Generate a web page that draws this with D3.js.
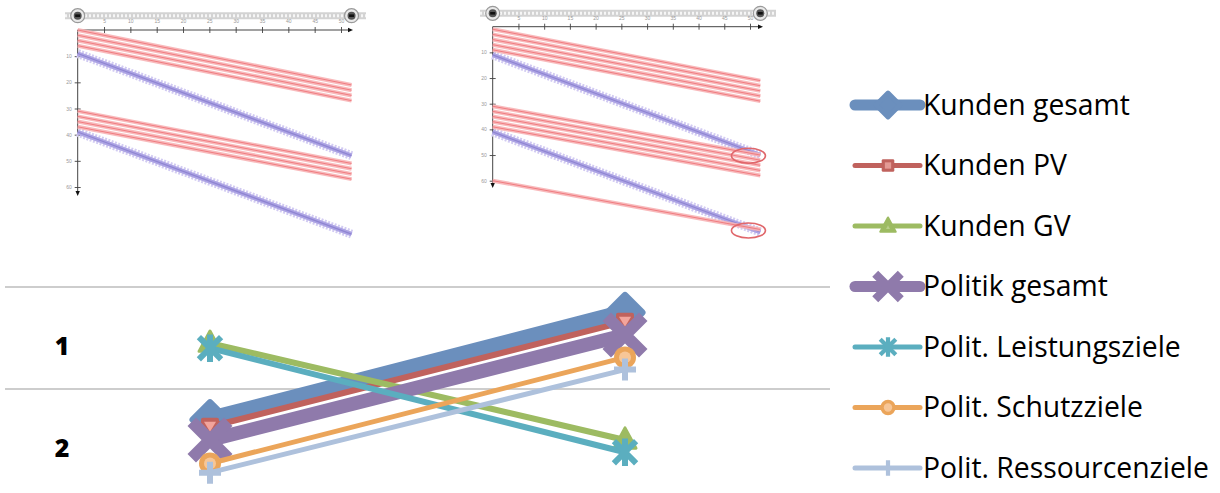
<!DOCTYPE html>
<html><head><meta charset="utf-8">
<script src="https://cdn.jsdelivr.net/npm/d3@7/dist/d3.min.js"></script>
<style>html,body{margin:0;padding:0;background:#fff;overflow:hidden}svg{display:block}</style>
</head><body>
<svg id="chart" width="1220" height="493"></svg>
<script>
// ---------- DATA ----------
// thumbnail charts (top)
const thumbXTicks = [5,10,15,20,25,30,35,40,45,50];
const thumbYTicks = [10,20,30,40,50,60];
const lineEndX = 52;
const leftPinkStart  = [0,2,4,6, 31,33,35,37];
const leftPinkEnd    = [21,23,25,27, 51,53,55,57];
const leftPurpleStart = [9,39];
const leftPurpleEnd   = [48,78];
const rightPinkStart = [1,3,5,7,9, 31,33,35,37,39, 60];
const rightPinkEnd   = [21,23,25,27,29, 50,52,54,56,58, 79];
const rightPurpleStart = [11,41];
const rightPurpleEnd   = [50,80];
const highlightX = [49.7,49.7];
const highlightY = [50.3,79.4];

// main chart (bottom)
const categories = ["1","2"];
const positions = ["A","B"];
const seriesNames = ["Kunden gesamt","Kunden PV","Kunden GV","Politik gesamt","Polit. Leistungsziele","Polit. Schutzziele","Polit. Ressourcenziele"];
const kundenGesamt = [1.80,0.75];
const kundenPV     = [1.87,0.84];
const kundenGV     = [1.05,2.00];
const politikGesamt= [2.00,0.97];
const politLeist   = [1.10,2.12];
const politSchutz  = [2.23,1.19];
const politRess    = [2.32,1.31];
const seriesValues = [kundenGesamt,kundenPV,kundenGV,politikGesamt,politLeist,politSchutz,politRess];

// ---------- STYLES ----------
const styles = [
  {color:"#6b8fbd", width:17, marker:"diamond", lw:11},
  {color:"#c0625d", width:6,  marker:"square", lw:5},
  {color:"#9dbb62", width:6,  marker:"triangle", lw:5},
  {color:"#8f7aab", width:14, marker:"bigx", lw:11},
  {color:"#5baebf", width:6,  marker:"star", lw:5},
  {color:"#eba55a", width:5,  marker:"circle", lw:5},
  {color:"#aec1dc", width:5,  marker:"plus", lw:5}
];

const svg = d3.select("#chart");

// ---------- THUMBNAILS ----------
function thumb(cfg, pinkS, pinkE, purS, purE, hx, hy){
  const g = svg.append("g");
  const x = d3.scaleLinear().domain([0,50]).range([cfg.x0, cfg.x50]);
  const y = d3.scaleLinear().domain([0,60]).range([cfg.y0, cfg.y60]);
  // slider
  const sy = cfg.sliderY;
  g.append("line").attr("x1",cfg.sL).attr("x2",cfg.sR).attr("y1",sy).attr("y2",sy)
    .attr("stroke","#d3d3d3").attr("stroke-width",7);
  g.append("line").attr("x1",cfg.sL).attr("x2",cfg.sR).attr("y1",sy).attr("y2",sy)
    .attr("stroke","#f6f6f6").attr("stroke-width",3).attr("stroke-dasharray","2,2");
  [x(0), x(lineEndX)].forEach(hxp=>{
    g.append("circle").attr("cx",hxp).attr("cy",sy).attr("r",7).attr("fill","#e9e9e9").attr("stroke","#9a9a9a").attr("stroke-width",1.2);
    g.append("circle").attr("cx",hxp).attr("cy",sy).attr("r",4).attr("fill","#555");
    g.append("rect").attr("x",hxp-2.5).attr("y",sy-1.3).attr("width",5).attr("height",2.6).attr("fill","#111");
  });
  // axes
  const ax = g.append("g").attr("transform",`translate(0,${cfg.y0})`)
    .call(d3.axisTop(x).tickValues(thumbXTicks).tickSize(3).tickSizeOuter(0));
  ax.select(".domain").remove();
  ax.selectAll(".tick line").attr("stroke","#555").attr("y2",3).attr("y1",-3);
  ax.selectAll(".tick text").attr("font-size",5).attr("fill","#999").attr("dy","-1px");
  g.append("line").attr("x1",x(0)).attr("x2",cfg.axEnd).attr("y1",cfg.y0).attr("y2",cfg.y0).attr("stroke","#444").attr("stroke-width",1);
  g.append("path").attr("d",`M${cfg.axEnd+3},${cfg.y0} L${cfg.axEnd-2},${cfg.y0-2.2} L${cfg.axEnd-2},${cfg.y0+2.2}Z`).attr("fill","#111");
  const ay = g.append("g").attr("transform",`translate(${cfg.x0},0)`)
    .call(d3.axisLeft(y).tickValues(thumbYTicks).tickSize(3).tickSizeOuter(0));
  ay.select(".domain").remove();
  ay.selectAll(".tick line").attr("stroke","#555").attr("x1",-3).attr("x2",3);
  ay.selectAll(".tick text").attr("font-size",5).attr("fill","#999");
  g.append("line").attr("x1",cfg.x0).attr("x2",cfg.x0).attr("y1",cfg.y0).attr("y2",cfg.yEnd).attr("stroke","#444").attr("stroke-width",1);
  g.append("path").attr("d",`M${cfg.x0},${cfg.yEnd+3} L${cfg.x0-2.2},${cfg.yEnd-2} L${cfg.x0+2.2},${cfg.yEnd-2}Z`).attr("fill","#111");
  // purple lines
  purS.forEach((s,i)=>{
    g.append("line").attr("x1",x(0)).attr("y1",y(s)).attr("x2",x(lineEndX)).attr("y2",y(purE[i]))
      .attr("stroke","#d2cbf2").attr("stroke-width",9).attr("stroke-dasharray","2,1.5");
    g.append("line").attr("x1",x(0)).attr("y1",y(s)).attr("x2",x(lineEndX)).attr("y2",y(purE[i]))
      .attr("stroke","#ada4e4").attr("stroke-width",4.5);
    g.append("line").attr("x1",x(0)).attr("y1",y(s)).attr("x2",x(lineEndX)).attr("y2",y(purE[i]))
      .attr("stroke","#8f85d2").attr("stroke-width",1.2);
  });
  // pink lines
  pinkS.forEach((s,i)=>{
    g.append("line").attr("x1",x(0)).attr("y1",y(s)).attr("x2",x(lineEndX)).attr("y2",y(pinkE[i]))
      .attr("stroke","#f7b3b5").attr("stroke-width",4).attr("stroke-opacity",0.9);
    g.append("line").attr("x1",x(0)).attr("y1",y(s)).attr("x2",x(lineEndX)).attr("y2",y(pinkE[i]))
      .attr("stroke","#f07c80").attr("stroke-width",1);
  });
  // highlight ellipses
  hx.forEach((v,i)=>{
    g.append("ellipse").attr("cx",x(v)).attr("cy",y(hy[i])).attr("rx",17).attr("ry",7.5)
      .attr("fill","none").attr("stroke","#e0676b").attr("stroke-width",1.6);
  });
}
thumb({x0:77.7,x50:341,y0:30,y60:187,axEnd:350,yEnd:193,sliderY:15.7,sL:65,sR:366},
  leftPinkStart,leftPinkEnd,leftPurpleStart,leftPurpleEnd,[],[]);
thumb({x0:492.7,x50:750,y0:26.7,y60:180.7,axEnd:760,yEnd:185,sliderY:13.3,sL:480,sR:776},
  rightPinkStart,rightPinkEnd,rightPurpleStart,rightPurpleEnd,highlightX,highlightY);

// ---------- MAIN CHART ----------
const yBand = d3.scaleBand().domain(categories).range([287,491]);
const yVal = d3.scaleLinear().domain([0.5,2.5]).range([287,491]);
const xPos = d3.scalePoint().domain(positions).range([210,625]);

// gridlines
const gridVals = [0.5,1.5];
svg.append("g").selectAll("line").data(gridVals).join("line")
  .attr("x1",5).attr("x2",830).attr("y1",d=>yVal(d)).attr("y2",d=>yVal(d))
  .attr("stroke","#bdbdbd").attr("stroke-width",1.6);

// category labels
svg.append("g").selectAll("text").data(categories).join("text")
  .attr("x",62).attr("y",d=>yBand(d)+yBand.bandwidth()/2+8).attr("dy","0.35em")
  .attr("text-anchor","middle").attr("font-family","'Open Sans', 'DejaVu Sans', sans-serif")
  .attr("font-weight",800).attr("font-size",25).attr("fill","#000").text(d=>d);

function drawMarker(g, type, color, k){
  const m = g.append("g");
  if(type==="diamond"){
    const s=17*k;
    m.append("path").attr("d",`M0,${-s}L${s},0L0,${s}L${-s},0Z`).attr("fill",color)
      .attr("stroke",color).attr("stroke-width",7*k).attr("stroke-linejoin","round");
  } else if(type==="square"){
    const s=9*k;
    m.append("rect").attr("x",-s).attr("y",-s).attr("width",2*s).attr("height",2*s).attr("rx",2*k).attr("fill",color);
    if(k>0.8) m.append("path").attr("d",`M${-6*k},${-5*k}L${6*k},${-5*k}L0,${5*k}Z`).attr("fill","#f2a49c");
    else m.append("rect").attr("x",-s*0.5).attr("y",-s*0.5).attr("width",s).attr("height",s).attr("fill","#e39a95");
  } else if(type==="triangle"){
    const s=11*k;
    m.append("path").attr("d",`M0,${-s*1.1}L${s},${s*0.75}L${-s},${s*0.75}Z`).attr("fill",color)
      .attr("stroke",color).attr("stroke-width",3*k).attr("stroke-linejoin","round");
    m.append("path").attr("d",`M0,${-s*0.1}L${s*0.25},${s*0.4}L${-s*0.25},${s*0.4}Z`).attr("fill","#b9d08a");
  } else if(type==="bigx"){
    const s=14*k;
    m.append("path").attr("d",`M${-s},${-s}L${s},${s}M${s},${-s}L${-s},${s}`).attr("stroke",color)
      .attr("stroke-width",12*k).attr("stroke-linecap","square");
  } else if(type==="star"){
    const s=9*k;
    m.append("path").attr("d",`M${-s},${-s}L${s},${s}M${s},${-s}L${-s},${s}M0,${-s*1.2}L0,${s*1.2}`).attr("stroke",color)
      .attr("stroke-width",6*k).attr("stroke-linecap","square");
  } else if(type==="circle"){
    m.append("circle").attr("r",11*k).attr("fill",color);
    m.append("circle").attr("r",6*k).attr("fill","#f7c697");
  } else if(type==="plus"){
    const s=11*k;
    m.append("path").attr("d",`M${-s},0L${s},0M0,${-s}L0,${s}`).attr("stroke",color)
      .attr("stroke-width",6*k);
  }
  return m;
}

const line = d3.line().x((d,i)=>xPos(positions[i])).y(d=>yVal(d));
const plot = svg.append("g");
seriesValues.forEach((vals,si)=>{
  const st = styles[si];
  const sg = plot.append("g");
  sg.append("path").attr("d",line(vals)).attr("fill","none").attr("stroke",st.color)
    .attr("stroke-width",st.width).attr("stroke-linecap","round");
  vals.forEach((v,i)=>{
    drawMarker(sg, st.marker, st.color, 1).attr("transform",`translate(${xPos(positions[i])},${yVal(v)})`);
  });
});

// ---------- LEGEND ----------
const legRows = d3.scalePoint().domain(seriesNames).range([105,468]);
const leg = svg.append("g");
seriesNames.forEach((name,si)=>{
  const st = styles[si];
  const yy = legRows(name);
  leg.append("line").attr("x1",855).attr("x2",920).attr("y1",yy).attr("y2",yy)
    .attr("stroke",st.color).attr("stroke-width",st.lw).attr("stroke-linecap","round");
  drawMarker(leg, st.marker, st.color, 0.7).attr("transform",`translate(888,${yy})`);
  leg.append("text").attr("x",923).attr("y",yy).attr("dy","0.35em")
    .attr("font-family","'Open Sans', 'Noto Sans', sans-serif").attr("font-size",24)
    .attr("fill","#000").text(name);
});
// fit legend font so the longest label matches the reference width
const texts = leg.selectAll("text");
let maxW = 0; texts.each(function(){maxW=Math.max(maxW,this.getComputedTextLength());});
const fs = 24*286/maxW;
texts.attr("font-size",fs);
</script>
</body></html>
